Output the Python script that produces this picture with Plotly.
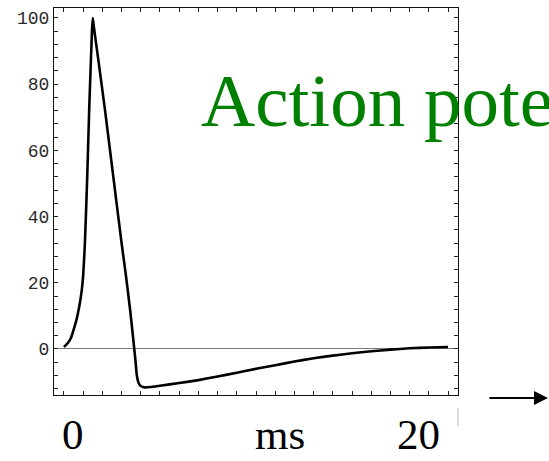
import plotly.graph_objects as go

# Membrane potential trace (mV) against time (ms)
t_ms = [0, 0.2, 0.36, 0.5, 0.65, 0.8, 0.92, 1.0, 1.09, 1.21, 1.32, 1.42, 1.46, 1.5, 1.55,
        1.62, 1.75, 2.14, 2.57, 3.0, 3.23, 3.44, 3.58, 3.66, 3.73, 3.79, 3.88, 4.0, 4.2,
        4.5, 5, 6, 7, 8, 9, 10, 11, 12, 13, 14, 15, 16, 17, 18, 19, 20]
v_mv = [0.6, 1.8, 3.3, 5.8, 8.8, 13.0, 17.5, 22.3, 32, 52, 73.6, 90, 96.5, 100, 97.5,
        94.5, 89, 72, 52, 32, 22, 12, 4.5, 0, -4, -7.8, -10.2, -11.2, -11.6,
        -11.5, -11.1, -10.3, -9.4, -8.3, -7.2, -6.0, -4.9, -3.8, -2.8, -2.0, -1.3, -0.7, -0.2, 0.2, 0.45, 0.6]

# Axis ticks
x_ticks = list(range(0, 21))
y_ticks = list(range(-12, 101, 4))
y_labels = [str(v) if v % 20 == 0 and v >= 0 else "" for v in y_ticks]

W, H = 549, 461
ML, MR, MT, MB = 54, 91, 8, 66
PW, PH = W - ML - MR, H - MT - MB


def px(x):
    return (x - ML) / PW


def py(y):
    return (H - MB - y) / PH


fig = go.Figure()
fig.add_trace(go.Scatter(
    x=t_ms, y=v_mv, mode="lines",
    line=dict(color="black", width=2.6, shape="spline", smoothing=0.5),
    hoverinfo="skip", showlegend=False,
))

fig.update_layout(
    width=W, height=H, autosize=False,
    margin=dict(l=ML, r=MR, t=MT, b=MB, pad=0),
    paper_bgcolor="white", plot_bgcolor="white",
    xaxis=dict(
        range=[-0.52, 20.52], tickmode="array", tickvals=x_ticks,
        ticks="inside", ticklen=4, tickwidth=1, tickcolor="#222",
        showticklabels=False, showgrid=False, zeroline=False,
        showline=True, linecolor="#111", linewidth=1, mirror="ticks",
    ),
    yaxis=dict(
        range=[-13.9, 103.0], tickmode="array", tickvals=y_ticks, ticktext=y_labels,
        ticks="inside", ticklen=4, tickwidth=1, tickcolor="#222",
        tickfont=dict(family="Liberation Mono, DejaVu Sans Mono, monospace", size=18, color="#2a2a2a"),
        ticklabelstandoff=0,
        showgrid=False, zeroline=True, zerolinecolor="#7a7a7a", zerolinewidth=1.3,
        showline=True, linecolor="#111", linewidth=1, mirror="ticks",
    ),
    font=dict(family="Liberation Serif"),
)

serif_big = dict(family="Liberation Serif", size=43, color="black")
annotations = [
    dict(text="0", x=px(72.5), font=serif_big),
    dict(text="ms", x=px(280), font=serif_big),
    dict(text="20", x=px(418.5), font=serif_big),
]
for a in annotations:
    a.update(xref="paper", yref="paper", y=py(460), xanchor="center", yanchor="bottom",
             showarrow=False)

annotations.append(dict(
    text="Action potential", xref="paper", yref="paper",
    x=px(199), y=py(100), xanchor="left", yanchor="middle", showarrow=False,
    font=dict(family="Liberation Serif", size=75, color="#008000"),
))

# Arrow pointing right, below the frame
annotations.append(dict(
    text="", xref="paper", yref="paper", x=px(548), y=py(398),
    ax=-60, ay=0, showarrow=True, arrowhead=2, arrowsize=1.4, arrowwidth=2,
    arrowcolor="black", standoff=0,
))
fig.update_layout(annotations=annotations)

# Faint gray mark below the right frame edge
fig.add_shape(type="line", xref="paper", yref="paper",
              x0=1, x1=1, y0=py(408), y1=py(426),
              line=dict(color="#cfcfcf", width=1.5))

fig.write_html("out.html")
